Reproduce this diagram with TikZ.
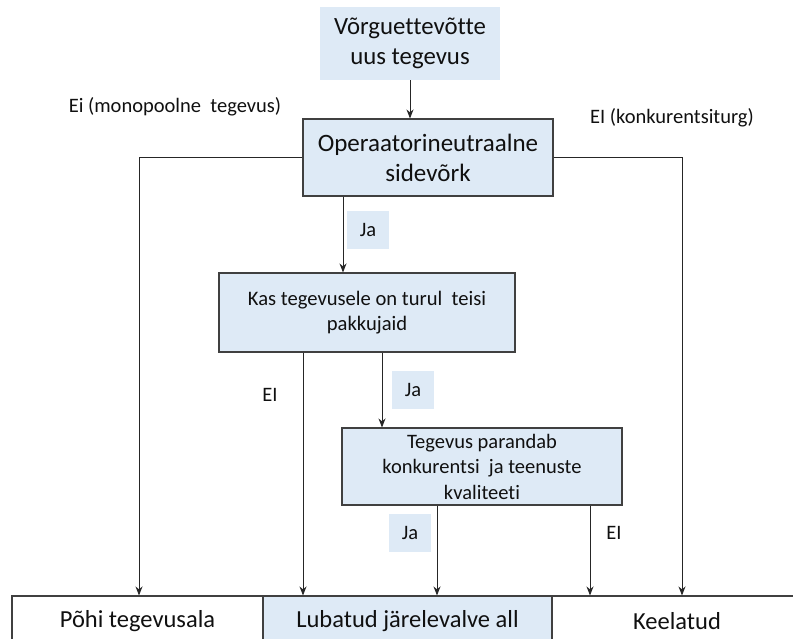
\documentclass[tikz,border=0pt]{standalone}
\usepackage{fontspec}
\setmainfont{Carlito}[Ligatures={NoCommon,NoContextual},RawFeature={-liga;-clig}]
\usetikzlibrary{arrows.meta}
\definecolor{boxblue}{HTML}{DEEAF6}
\definecolor{edge}{HTML}{404040}
\definecolor{txt}{HTML}{101010}
\begin{document}
\begin{tikzpicture}[x=1pt,y=-1pt,
    box/.style={draw=edge,fill=boxblue,line width=1.1pt,inner sep=0pt,align=center,text=txt},
    plain/.style={fill=boxblue,inner sep=0pt,align=center,text=txt},
    endbox/.style={draw=edge,line width=1.1pt,inner sep=0pt,align=center,text=txt,font=\fontsize{24.5}{28}\selectfont},
    lbl/.style={text=txt,font=\fontsize{20.5}{24}\selectfont},
    jabox/.style={fill=boxblue,minimum width=42pt,minimum height=38pt,inner sep=0pt,text=txt,font=\fontsize{20.5}{24}\selectfont},
    arr/.style={draw=black!85,line width=0.9pt,-{Stealth[length=9pt,width=7pt]}},
    ln/.style={draw=black!85,line width=0.9pt}]
\useasboundingbox (0,0) rectangle (793,639);
% boxes
\node[plain,minimum width=180pt,minimum height=73pt,font=\fontsize{24.8}{30}\selectfont] (new) at (410,43.5) {Võrguettevõtte\\uus tegevus};
\node[box,minimum width=250pt,minimum height=77pt,font=\fontsize{25}{30}\selectfont] (op) at (428,157.5) {Operaatorineutraalne\\sidevõrk};
\node[box,minimum width=296pt,minimum height=79pt,font=\fontsize{20.6}{25}\selectfont] (kas) at (367,312.5) {Kas tegevusele on turul\ \ teisi\\pakkujaid};
\node[box,minimum width=280pt,minimum height=77pt,font=\fontsize{20.5}{25.5}\selectfont] (teg) at (482,466.5) {Tegevus parandab\\konkurentsi\ \ ja teenuste\\kvaliteeti};
\node[endbox,minimum width=251pt,minimum height=50pt] (pohi) at (137.5,621) {Põhi tegevusala};
\node[endbox,fill=boxblue,minimum width=289pt,minimum height=50pt] (lub) at (407.5,621) {Lubatud järelevalve all};
\node[endbox,minimum width=250pt,minimum height=50pt] (keel) at (677,621) {Keelatud};
% labels
\node[jabox] (ja1) at (368,230) {Ja};
\node[jabox] (ja2) at (413,390) {Ja};
\node[jabox] (ja3) at (410,532.5) {Ja};
\node[lbl] (mono) at (175,107) {Ei (monopoolne\ \ tegevus)};
\node[lbl] (konk) at (672,118) {EI (konkurentsiturg)};
\node[lbl] (ei1) at (270,395) {EI};
\node[lbl] (ei2) at (614,533) {EI};
% bend points
\coordinate (xl) at (139,0);
\coordinate (xr) at (682,0);
\coordinate (xa) at (343,0);
\coordinate (xb) at (303,0);
\coordinate (xc) at (382,0);
\coordinate (xd) at (437,0);
\coordinate (xe) at (590,0);
% connectors
\draw[arr] (new.south) -- (new.south |- op.north);
\draw[arr] (op.west) -| (xl |- pohi.north);
\draw[arr] (op.east) -| (xr |- keel.north);
\draw[arr] (xa |- op.south) -- (xa |- kas.north);
\draw[arr] (xb |- kas.south) -- (xb |- lub.north);
\draw[arr] (xc |- kas.south) -- (xc |- teg.north);
\draw[arr] (xd |- teg.south) -- (xd |- lub.north);
\draw[arr] (xe |- teg.south) -- (xe |- keel.north);
\end{tikzpicture}
\end{document}
